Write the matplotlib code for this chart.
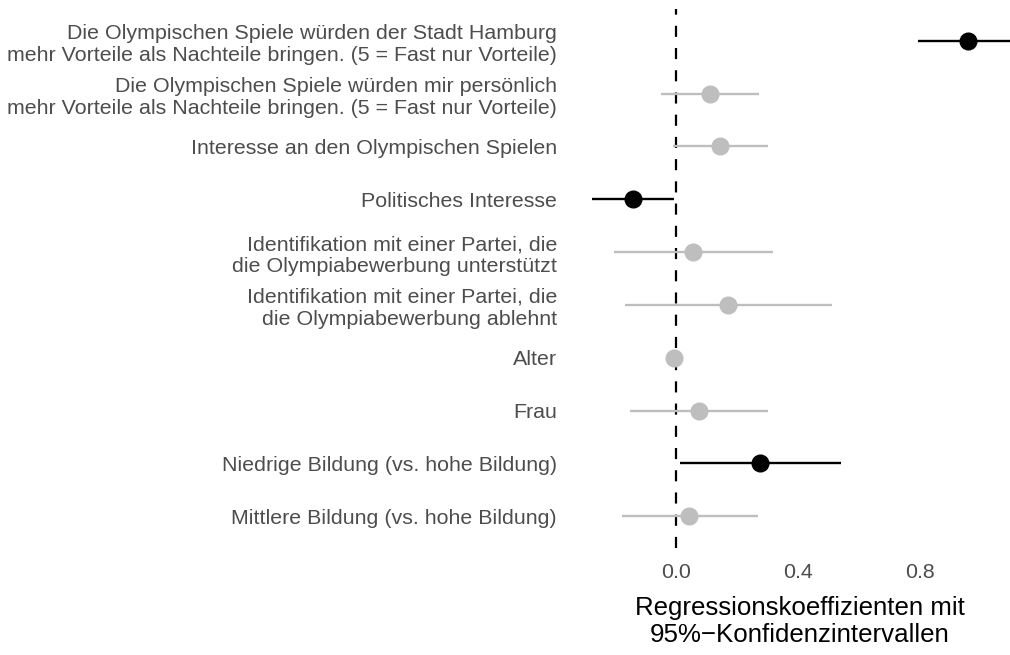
#!/usr/bin/env python3
import matplotlib
matplotlib.use('Agg')
import matplotlib.pyplot as plt

plt.rcParams['font.family'] = ['Liberation Sans', 'DejaVu Sans']

labels = [
    'Die Olympischen Spiele würden der Stadt Hamburg\nmehr Vorteile als Nachteile bringen. (5 = Fast nur Vorteile)',
    'Die Olympischen Spiele würden mir persönlich\nmehr Vorteile als Nachteile bringen. (5 = Fast nur Vorteile)',
    'Interesse an den Olympischen Spielen',
    'Politisches Interesse',
    'Identifikation mit einer Partei, die\ndie Olympiabewerbung unterstützt',
    'Identifikation mit einer Partei, die\ndie Olympiabewerbung ablehnt',
    'Alter',
    'Frau',
    'Niedrige Bildung (vs. hohe Bildung)',
    'Mittlere Bildung (vs. hohe Bildung)',
]
coef = [0.957, 0.111, 0.145, -0.142, 0.057, 0.172, -0.007, 0.076, 0.275, 0.044]
lower = [0.793, -0.049, -0.011, -0.275, -0.202, -0.167, -0.012, -0.150, 0.013, -0.178]
upper = [1.121, 0.272, 0.303, -0.008, 0.317, 0.510, -0.002, 0.303, 0.540, 0.268]
signif = [True, False, False, True, False, False, False, False, True, False]


def graphic():
  fig = plt.figure(figsize=(10.1, 6.55), dpi=100)
  ax = fig.add_axes([571/1010, 1-548/655, 1-571/1010, (548-9)/655])
  n = len(labels)
  ypos = [n - i for i in range(n)]
  ax.axvline(0, color='black', lw=1.6, ls=(0, (5, 5)), zorder=1)
  for y, c, lo, hi, s in zip(ypos, coef, lower, upper, signif):
    col = 'black' if s else '#BEBEBE'
    ax.plot([lo, hi], [y, y], color=col, lw=1.7, solid_capstyle='butt', zorder=2)
    ax.plot(c, y, 'o', color=col, ms=12, zorder=3)
  ax.set_ylim(0.4, n + 0.6)
  ax.set_xlim(-0.344, 1.095)
  ax.set_yticks(ypos)
  ax.set_yticklabels(labels, fontsize=15.4, color='#4D4D4D', linespacing=1.2)
  ax.set_xticks([0.0, 0.4, 0.8])
  ax.set_xticklabels(['0.0', '0.4', '0.8'], fontsize=15.4, color='#4D4D4D')
  ax.tick_params(axis='x', length=0, pad=11)
  ax.tick_params(axis='y', length=0, pad=10)
  for sp in ax.spines.values():
    sp.set_visible(False)
  ax.set_xlabel('Regressionskoeffizienten mit\n95%\u2212Konfidenzintervallen', fontsize=18.6,
                labelpad=10, linespacing=1.15, x=(800-571)/(1010-571), ha='center')
  fig.savefig('out.png', dpi=100)


if __name__ == '__main__':
  graphic()
